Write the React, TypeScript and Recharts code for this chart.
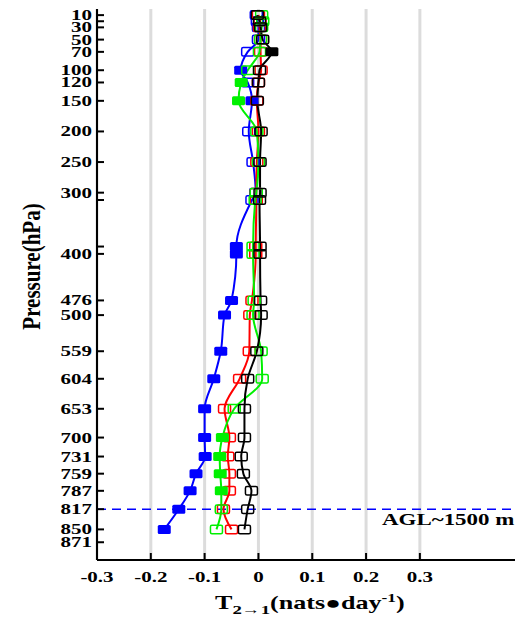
import React from "react";
import { ComposedChart, Line, XAxis, YAxis, CartesianGrid, ReferenceLine } from "recharts";

// pressure levels (hPa)
const levels = [10, 20, 30, 50, 70, 100, 120, 150, 200, 250, 300, 312, 388, 400, 476, 500, 559, 604, 653, 700, 731, 759, 787, 817, 850];

const blue = [-0.004, -0.002, 0, 0, -0.02, -0.033, -0.02, -0.012, -0.018, -0.01, -0.005, -0.012, -0.041, -0.041, -0.05, -0.063, -0.07, -0.083, -0.1, -0.1, -0.099, -0.116, -0.127, -0.148, -0.175];
const red = [0, 0.003, 0.002, 0.004, 0.004, 0.005, 0, -0.003, 0, -0.003, -0.004, -0.004, -0.005, -0.005, -0.012, -0.016, -0.017, -0.035, -0.063, -0.054, -0.057, -0.054, -0.054, -0.065, -0.05];
const green = [0.006, 0.008, 0.006, 0.004, 0.002, -0.02, -0.032, -0.037, -0.003, 0, -0.004, -0.006, -0.01, -0.01, -0.008, -0.01, 0.005, 0.007, -0.045, -0.067, -0.072, -0.071, -0.069, -0.069, -0.078];
const black = [-0.002, 0.002, 0.004, 0.008, 0.025, 0.002, 0, -0.002, 0.005, 0.003, 0.003, 0.002, 0.003, 0.003, 0.004, 0.005, -0.003, -0.02, -0.026, -0.026, -0.032, -0.028, -0.013, -0.02, -0.026];

// 1 = filled (significant) marker
const blueFilled = [0, 0, 0, 0, 0, 1, 0, 1, 0, 0, 0, 0, 1, 1, 1, 1, 1, 1, 1, 1, 1, 1, 1, 1, 1];
const redFilled = [0, 0, 0, 0, 0, 0, 0, 0, 0, 0, 0, 0, 0, 0, 0, 0, 0, 0, 0, 0, 0, 0, 0, 0, 0];
const greenFilled = [0, 0, 0, 0, 0, 0, 1, 1, 0, 0, 0, 0, 0, 0, 0, 0, 0, 0, 0, 1, 1, 1, 1, 0, 0];
const blackFilled = [0, 0, 0, 0, 1, 0, 0, 0, 0, 0, 0, 0, 0, 0, 0, 0, 0, 0, 0, 0, 0, 0, 0, 0, 0];

const xTicks = [-0.3, -0.2, -0.1, 0, 0.1, 0.2, 0.3];
const yTicks = [10, 20, 30, 50, 70, 100, 120, 150, 200, 250, 300, 312, 388, 400, 476, 500, 559, 604, 653, 700, 731, 759, 787, 817, 850, 871];
const yLabels = [10, 30, 50, 70, 100, 120, 150, 200, 250, 300, 400, 476, 500, 559, 604, 653, 700, 731, 759, 787, 817, 850, 871];

const data = levels.map((p, i) => ({
  p,
  blue: blue[i],
  red: red[i],
  green: green[i],
  black: black[i],
  blueF: blueFilled[i],
  redF: redFilled[i],
  greenF: greenFilled[i],
  blackF: blackFilled[i],
}));

const FONT = "'Liberation Serif', 'Times New Roman', serif";
const SX = 1.4;
const GREEN = "#00f000";

const makeDot = (color: string, flag: string) => (props: any) => {
  const { cx, cy, payload, index } = props;
  if (cx == null || cy == null) return <g key={index} />;
  if (payload[flag] === 1) {
    return <rect key={index} x={cx - 6.5} y={cy - 4.5} width={13} height={9} rx={1.5} fill={color} />;
  }
  return (
    <rect key={index} x={cx - 6} y={cy - 4.25} width={12} height={8.5} rx={1.5}
      fill="none" stroke={color} strokeWidth={1.5} />
  );
};

const XTick = (props: any) => {
  const { x, y, payload } = props;
  const v = payload.value;
  const txt = v === 0 ? "0" : v.toFixed(1);
  return (
    <g>
      <line x1={x} x2={x} y1={y} y2={y - 7} stroke="#000" strokeWidth={2} />
      <text transform={`translate(${x},${y + 22}) scale(${SX},1)`} textAnchor="middle"
        fontFamily={FONT} fontWeight="bold" fontSize={15} fill="#000">{txt}</text>
    </g>
  );
};

const TopTick = (props: any) => {
  const { x, y } = props;
  return <line x1={x} x2={x} y1={y} y2={y + 7} stroke="#000" strokeWidth={2} />;
};

const YTick = (props: any) => {
  const { x, y, payload } = props;
  const v = payload.value;
  return (
    <g>
      <line x1={x} x2={x + 7} y1={y} y2={y} stroke="#000" strokeWidth={2} />
      {yLabels.includes(v) && (
        <text transform={`translate(${x - 5},${y + 5}) scale(${SX},1)`} textAnchor="end"
          fontFamily={FONT} fontWeight="bold" fontSize={15} fill="#000">{v}</text>
      )}
    </g>
  );
};

const XLabel = (props: any) => {
  const { x, y } = props.viewBox;
  return (
    <text transform={`translate(${x + 118},${y + 49}) scale(1.45,1)`} fontFamily={FONT}
      fontWeight="bold" fontSize={18} fill="#000">
      <tspan>T</tspan>
      <tspan fontSize={13} dy={5}>2→1</tspan>
      <tspan dy={-5}>(nats●day</tspan>
      <tspan fontSize={12} dy={-7}>-1</tspan>
      <tspan dy={7}>)</tspan>
    </text>
  );
};

const YLabel = (props: any) => {
  const { y, height } = props.viewBox;
  return (
    <text transform={`translate(40,${y + height / 2 - 18}) scale(1.2,1) rotate(-90)`}
      textAnchor="middle" fontFamily={FONT} fontWeight="bold" fontSize={21} fill="#000">
      Pressure(hPa)
    </text>
  );
};

const TimeLabel = (props: any) => {
  const { x, y } = props.viewBox;
  return (
    <text transform={`translate(${x + 15},${y + 15}) scale(1.3,1)`} fontFamily={FONT}
      fontWeight="bold" fontSize={17} fill="#000">12z</text>
  );
};

const AglLabel = (props: any) => {
  const { x, y } = props.viewBox;
  return (
    <text transform={`translate(${x + 285},${y + 16}) scale(1.35,1)`} fontFamily={FONT}
      fontWeight="bold" fontSize={17} fill="#000">AGL~1500 m</text>
  );
};

export default function App() {
  return (
    <div style={{ position: "absolute", left: 0, top: 0, width: 515, height: 619, overflow: "hidden", background: "#fff" }}>
      <ComposedChart width={540} height={619} data={data} layout="vertical"
        margin={{ top: 9, right: 12.5, left: 0, bottom: 0 }}>
        <CartesianGrid horizontal={false} stroke="#dcdcdc" strokeWidth={3} />
        <XAxis type="number" domain={[-0.3, 0.5]} ticks={xTicks} interval={0} height={59}
          tickSize={0} tickMargin={0} tickLine={false} allowDataOverflow
          axisLine={{ stroke: "#000", strokeWidth: 2 }} tick={(p: any) => <XTick {...p} />}
          label={{ content: (p: any) => <XLabel {...p} /> }} />
        <XAxis xAxisId="top" orientation="top" type="number" domain={[-0.3, 0.5]} ticks={xTicks}
          interval={0} height={0} tickSize={0} tickMargin={0} tickLine={false} allowDataOverflow
          axisLine={{ stroke: "#000", strokeWidth: 2 }} tick={(p: any) => <TopTick {...p} />}
          label={{ content: (p: any) => <TimeLabel {...p} /> }} />
        <YAxis type="number" dataKey="p" domain={[0, 900]} ticks={yTicks} interval={0} width={97}
          tickSize={0} tickMargin={0} tickLine={false} allowDataOverflow
          axisLine={{ stroke: "#000", strokeWidth: 2 }} tick={(p: any) => <YTick {...p} />}
          label={{ content: (p: any) => <YLabel {...p} /> }} />
        <ReferenceLine y={817} stroke="#0000ff" strokeWidth={1.5} strokeDasharray="9 6"
          label={{ content: (p: any) => <AglLabel {...p} /> }} />
        <Line type="monotone" dataKey="blue" stroke="#0000ff" strokeWidth={2}
          dot={makeDot("#0000ff", "blueF")} activeDot={false} isAnimationActive={false} />
        <Line type="monotone" dataKey="red" stroke="#ff0000" strokeWidth={2}
          dot={makeDot("#ff0000", "redF")} activeDot={false} isAnimationActive={false} />
        <Line type="monotone" dataKey="green" stroke={GREEN} strokeWidth={2}
          dot={makeDot(GREEN, "greenF")} activeDot={false} isAnimationActive={false} />
        <Line type="monotone" dataKey="black" stroke="#000000" strokeWidth={2}
          dot={makeDot("#000000", "blackF")} activeDot={false} isAnimationActive={false} />
      </ComposedChart>
    </div>
  );
}
